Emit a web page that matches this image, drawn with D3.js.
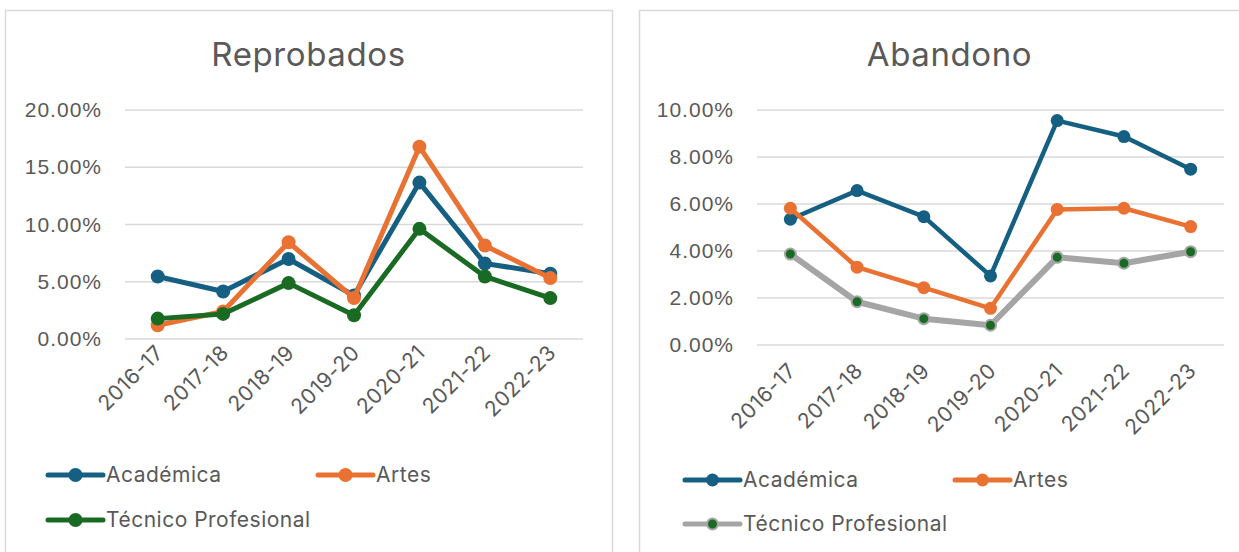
<!DOCTYPE html>
<html>
<head>
<meta charset="utf-8">
<script src="https://cdn.jsdelivr.net/npm/d3@7"></script>
<style>
  body { margin: 0; background: #fff; }
  svg { display: block; font-family: Inter, "Liberation Sans", sans-serif; }
</style>
</head>
<body>
<svg id="chart" width="1239" height="552"></svg>
<script>
const years = ['2016-17', '2017-18', '2018-19', '2019-20', '2020-21', '2021-22', '2022-23'];
const seriesNames = ['Académica', 'Artes', 'Técnico Profesional'];

// Reprobados (share of students)
const reprobadosAcademica = [0.0546, 0.0415, 0.0699, 0.0380, 0.1366, 0.0660, 0.0570];
const reprobadosArtes = [0.0120, 0.0240, 0.0845, 0.0357, 0.1680, 0.0816, 0.0532];
const reprobadosTecnico = [0.0178, 0.0219, 0.0488, 0.0208, 0.0962, 0.0546, 0.0357];
const reprobadosTicks = [0, 0.05, 0.10, 0.15, 0.20];

// Abandono
const abandonoAcademica = [0.0535, 0.0657, 0.0546, 0.0294, 0.0955, 0.0887, 0.0748];
const abandonoArtes = [0.0582, 0.0331, 0.0244, 0.0156, 0.0577, 0.0582, 0.0504];
const abandonoTecnico = [0.0387, 0.0184, 0.0112, 0.0084, 0.0373, 0.0348, 0.0397];
const abandonoTicks = [0, 0.02, 0.04, 0.06, 0.08, 0.10];

const textColor = '#595959';
const gridColor = '#d9d9d9';
const blue = '#156082', orange = '#e97132', green = '#196b24', grey = '#a5a5a5';

const svg = d3.select('#chart');
const fmt = d3.format('.2%');

function drawChart(cfg) {
  const g = svg.append('g');

  // panel frame (bottom runs off the picture)
  g.append('rect')
    .attr('x', cfg.frame[0] + 0.5).attr('y', 10.5)
    .attr('width', cfg.frame[1] - cfg.frame[0]).attr('height', 600)
    .attr('fill', 'none').attr('stroke', gridColor).attr('stroke-width', 1.5);

  g.append('text')
    .attr('x', (cfg.frame[0] + cfg.frame[1]) / 2).attr('y', 66)
    .attr('text-anchor', 'middle')
    .attr('font-size', 33).attr('letter-spacing', 0.6).attr('fill', textColor)
    .text(cfg.title);

  const x = d3.scalePoint().domain(years).range(cfg.xRange).padding(0.5);
  const y = d3.scaleLinear().domain([0, d3.max(cfg.ticks)]).range(cfg.yRange);

  // horizontal gridlines
  g.append('g').selectAll('line').data(cfg.ticks).join('line')
    .attr('x1', cfg.xRange[0]).attr('x2', cfg.xRange[1])
    .attr('y1', d => y(d)).attr('y2', d => y(d))
    .attr('stroke', gridColor).attr('stroke-width', 1.5);

  const yAxis = d3.axisLeft(y).tickValues(cfg.ticks).tickFormat(fmt).tickSize(0).tickPadding(23);
  const ya = g.append('g').attr('transform', `translate(${cfg.xRange[0]},0)`).call(yAxis);
  ya.select('.domain').remove();
  ya.selectAll('text').attr('font-size', 21).attr('letter-spacing', 1)
    .attr('fill', textColor).attr('font-family', null);

  // rotated category labels
  g.append('g').selectAll('text').data(years).join('text')
    .attr('transform', d => `translate(${x(d) + 7},${cfg.yRange[0] + cfg.labelDy}) rotate(-45)`)
    .attr('text-anchor', 'end')
    .attr('font-size', 21).attr('letter-spacing', 0.6).attr('fill', textColor)
    .text(d => d);

  const line = d3.line().x((d, i) => x(years[i])).y(d => y(d));

  cfg.series.forEach(s => {
    g.append('path').datum(s.values)
      .attr('d', line).attr('fill', 'none')
      .attr('stroke', s.lineColor).attr('stroke-width', s.lineWidth)
      .attr('stroke-linejoin', 'round');
    g.append('g').selectAll('circle').data(s.values).join('circle')
      .attr('cx', (d, i) => x(years[i])).attr('cy', d => y(d))
      .attr('r', s.r).attr('fill', s.markColor)
      .attr('stroke', s.markStroke || 'none').attr('stroke-width', 2);
  });

  // legend
  cfg.series.forEach((s, i) => {
    const lx = cfg.legend[i][0], ly = cfg.legend[i][1];
    const lg = g.append('g').attr('transform', `translate(${lx},${ly})`);
    lg.append('line').attr('x1', 0).attr('x2', 55)
      .attr('stroke', s.lineColor).attr('stroke-width', 5).attr('stroke-linecap', 'round');
    lg.append('circle').attr('cx', 27.5).attr('r', s.r)
      .attr('fill', s.markColor).attr('stroke', s.markStroke || 'none').attr('stroke-width', 2);
    lg.append('text').attr('x', 58).attr('dy', '0.35em')
      .attr('font-size', 21).attr('letter-spacing', 0.5).attr('fill', textColor)
      .text(seriesNames[i]);
  });
}

drawChart({
  title: 'Reprobados',
  frame: [5, 612],
  xRange: [125, 583],
  yRange: [339, 110],
  ticks: reprobadosTicks,
  labelDy: 15,
  legend: [[48, 475], [318, 475], [48, 520]],
  series: [
    { values: reprobadosAcademica, lineColor: blue, markColor: blue, lineWidth: 5, r: 7 },
    { values: reprobadosArtes, lineColor: orange, markColor: orange, lineWidth: 5, r: 7 },
    { values: reprobadosTecnico, lineColor: green, markColor: green, lineWidth: 5, r: 7 }
  ]
});

drawChart({
  title: 'Abandono',
  frame: [639, 1260],
  xRange: [757, 1224],
  yRange: [345, 110],
  ticks: abandonoTicks,
  labelDy: 27,
  legend: [[685, 480], [955, 480], [685, 524]],
  series: [
    { values: abandonoAcademica, lineColor: blue, markColor: blue, lineWidth: 4.5, r: 6.5 },
    { values: abandonoArtes, lineColor: orange, markColor: orange, lineWidth: 4.5, r: 6.5 },
    { values: abandonoTecnico, lineColor: grey, markColor: green, markStroke: grey, lineWidth: 6, r: 5.5 }
  ]
});
</script>
</body>
</html>
